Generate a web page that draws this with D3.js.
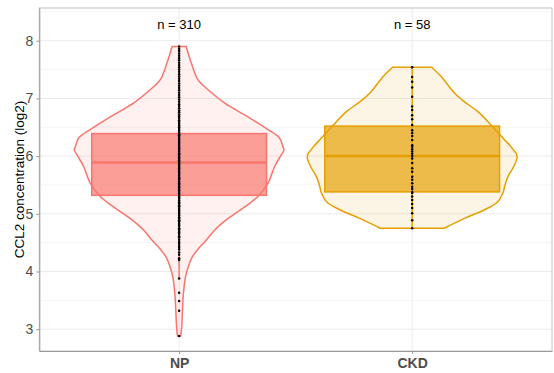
<!DOCTYPE html>
<html><head><meta charset="utf-8">
<script src="https://cdn.jsdelivr.net/npm/d3@7"></script>
<style>body{margin:0;background:#fff}svg{display:block;font-family:"Liberation Sans",Arial,sans-serif}</style>
</head><body><svg id="c" width="554" height="373"></svg>
<script>
const categories = ["NP", "CKD"];
const counts = [310, 58];
const colors = ["#F8766D", "#E69F00"];
const yTicks = [3, 4, 5, 6, 7, 8];
// box statistics [q1, median, q3, whiskerLow, whiskerHigh]
const npBox = [5.32, 5.89, 6.39, 3.88, 7.90];
const ckdBox = [5.38, 6.00, 6.52, 4.75, 7.54];
// violin outline: [value, relative half-width]
const npViolin = [[7.90,0.067],[7.61,0.117],[7.32,0.181],[7.15,0.276],[6.92,0.435],[6.68,0.657],[6.46,0.848],[6.31,0.959],[6.16,0.990],[6.11,1.0],[6.02,0.974],[5.82,0.911],[5.53,0.848],[5.30,0.752],[5.12,0.626],[4.92,0.467],[4.72,0.340],[4.55,0.262],[4.40,0.185],[4.26,0.128],[4.10,0.090],[3.90,0.060],[3.60,0.040],[3.30,0.031],[3.05,0.025],[2.88,0.016]];
const ckdViolin = [[7.54,0.186],[7.38,0.276],[7.09,0.405],[6.94,0.500],[6.77,0.627],[6.54,0.752],[6.31,0.867],[6.16,0.943],[6.05,0.990],[6.00,1.0],[5.93,0.995],[5.79,0.960],[5.64,0.912],[5.47,0.881],[5.36,0.865],[5.21,0.817],[5.07,0.690],[4.92,0.500],[4.75,0.305]];
const npDots = [2.88,3.32,3.49,3.63,3.88,4.20,4.23,4.29,4.33,4.38,4.41,4.44,4.48,4.51,4.55,4.59,4.61,4.65,4.68,4.70,4.73,4.75,4.79,4.81,4.84,4.87,4.89,4.92,4.94,4.97,5.00,5.02,5.05,5.07,5.10,5.13,5.15,5.18,5.20,5.23,5.26,5.28,5.30,5.33,5.35,5.38,5.41,5.43,5.46,5.48,5.51,5.53,5.56,5.59,5.61,5.63,5.66,5.69,5.71,5.73,5.76,5.79,5.81,5.83,5.86,5.88,5.90,5.93,5.95,5.98,6.00,6.03,6.05,6.08,6.11,6.13,6.15,6.18,6.21,6.23,6.25,6.28,6.30,6.33,6.36,6.38,6.41,6.44,6.47,6.50,6.53,6.56,6.59,6.62,6.66,6.69,6.72,6.76,6.79,6.83,6.87,6.90,6.94,6.98,7.02,7.06,7.10,7.14,7.18,7.22,7.26,7.30,7.34,7.38,7.42,7.46,7.50,7.54,7.58,7.62,7.66,7.70,7.74,7.78,7.82,7.86,7.90];
const ckdDots = [7.54,7.37,7.29,7.19,7.03,6.86,6.80,6.71,6.64,6.54,6.45,6.40,6.35,6.28,6.19,6.16,6.12,6.08,6.04,6.00,5.96,5.88,5.79,5.73,5.64,5.59,5.53,5.47,5.43,5.38,5.36,5.30,5.24,5.17,5.10,5.01,4.89,4.75];
const nLabelY = 8.29;

const boxes = [npBox, ckdBox], violins = [npViolin, ckdViolin], dots = [npDots, ckdDots];
const L = 39.3, R = 552, T = 8, B = 351;
const svg = d3.select("#c");
const x = d3.scalePoint().domain(categories).range([L, R]).padding(0.6);
const step = x.step();
const y = d3.scaleLinear().domain([2.622, 8.567]).range([B, T]);

// grid
const g = svg.append("g");
d3.range(2.5, 9, 1).forEach(v => { if (y(v) > T && y(v) < B) g.append("line").attr("x1", L).attr("x2", R).attr("y1", y(v)).attr("y2", y(v)).attr("stroke", "#f4f4f4").attr("stroke-width", 0.8); });
yTicks.forEach(v => g.append("line").attr("x1", L).attr("x2", R).attr("y1", y(v)).attr("y2", y(v)).attr("stroke", "#ebebeb").attr("stroke-width", 1));
categories.forEach(c => g.append("line").attr("x1", x(c)).attr("x2", x(c)).attr("y1", T).attr("y2", B).attr("stroke", "#ebebeb").attr("stroke-width", 1));
svg.append("rect").attr("x", L).attr("y", T).attr("width", R - L).attr("height", B - T).attr("fill", "none").attr("stroke", "#c4c4c4").attr("stroke-width", 1);

const maxHw = 0.45 * step, boxHw = 0.375 * step;
categories.forEach((c, i) => {
  const cx = x(c), col = colors[i];
  const area = d3.area().curve(d3.curveCatmullRom.alpha(0.5))
    .y(d => y(d[0])).x0(d => cx - d[1] * maxHw).x1(d => cx + d[1] * maxHw);
  svg.append("path").attr("d", area(violins[i])).attr("fill", col).attr("fill-opacity", 0.1)
    .attr("stroke", col).attr("stroke-width", 1.5);
  const b = boxes[i];
  svg.append("line").attr("x1", cx).attr("x2", cx).attr("y1", y(b[3])).attr("y2", y(b[4])).attr("stroke", col).attr("stroke-width", 1.5);
  svg.append("rect").attr("x", cx - boxHw).attr("width", 2 * boxHw).attr("y", y(b[2])).attr("height", y(b[0]) - y(b[2]))
    .attr("fill", col).attr("fill-opacity", 0.68).attr("stroke", col).attr("stroke-width", 1.5);
  svg.append("line").attr("x1", cx - boxHw).attr("x2", cx + boxHw).attr("y1", y(b[1])).attr("y2", y(b[1])).attr("stroke", col).attr("stroke-width", 2.5);
  svg.append("g").selectAll("circle").data(dots[i]).join("circle").attr("cx", cx).attr("cy", d => y(d)).attr("r", 1.25).attr("fill", "#000");
  svg.append("text").attr("x", cx).attr("y", y(nLabelY)).attr("dy", "0.35em").attr("text-anchor", "middle")
    .attr("font-size", 13).attr("fill", "#000").text("n = " + counts[i]);
});

// axes
const ya = svg.append("g").attr("transform", `translate(${L},0)`).call(d3.axisLeft(y).tickValues(yTicks).tickSize(3).tickSizeOuter(0).tickPadding(3).tickFormat(d3.format("d")));
ya.select(".domain").attr("stroke", "#999");
ya.selectAll(".tick line").attr("stroke", "#999");
ya.selectAll("text").attr("font-size", 14).attr("fill", "#4d4d4d").attr("font-family", "Liberation Sans, Arial, sans-serif");
const xa = svg.append("g").attr("transform", `translate(0,${B})`).call(d3.axisBottom(x).tickSize(3).tickSizeOuter(0).tickPadding(4));
xa.select(".domain").attr("stroke", "#999");
xa.selectAll(".tick line").attr("stroke", "#999");
xa.selectAll("text").attr("font-size", 14).attr("font-weight", "bold").attr("fill", "#4d4d4d").attr("font-family", "Liberation Sans, Arial, sans-serif");

svg.append("text").attr("transform", `translate(19,${(T + B) / 2}) rotate(-90)`).attr("text-anchor", "middle").attr("dy", "0.35em")
  .attr("font-size", 13.5).attr("fill", "#000").text("CCL2 concentration (log2)");
</script></body></html>
